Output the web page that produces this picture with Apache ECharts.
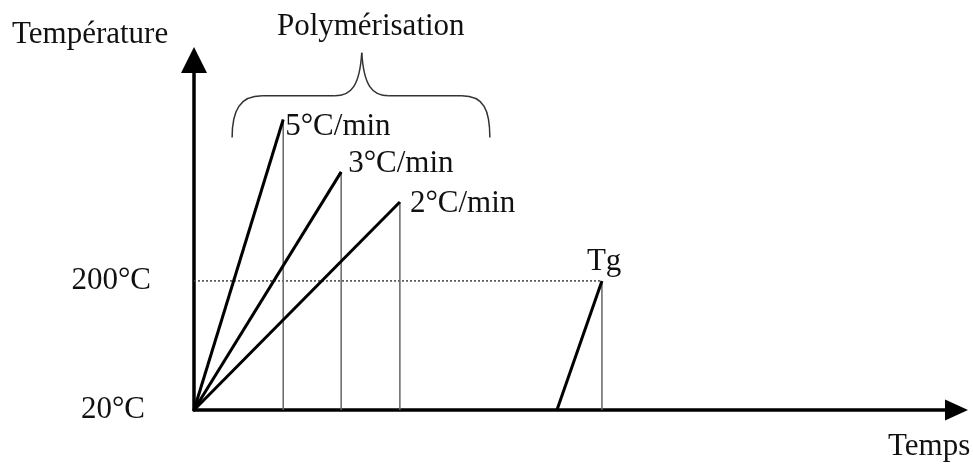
<!DOCTYPE html>
<html>
<head>
<meta charset="utf-8">
<script src="https://cdn.jsdelivr.net/npm/echarts@6/dist/echarts.min.js"></script>
<style>
  html, body { margin: 0; padding: 0; background: #fff; }
  #main { width: 973px; height: 465px; }
</style>
</head>
<body>
<div id="main"></div>
<script>
// donnees du schema (unites arbitraires pour le temps)
var rates = ['5°C/min', '3°C/min', '2°C/min'];
var peakTime = [11.7, 19.3, 27.0];
var peakTemp = [425, 352, 310];
var tgStart = 47.6;
var tgTime = 53.5;
var tgTemp = 200;
var yTicks = [20, 200];
// accolade "Polymérisation" : bornes en temps, niveaux en temperature
var braceTime = [5.0, 22.0, 38.8];
var braceTemp = [400, 458, 518];

var FONT = "'Liberation Serif', 'Times New Roman', serif";
var TXT = '#111';

var series = [];
// pointilles a 200°C
series.push({
    type: 'line', silent: true, symbol: 'none',
    data: [[0, tgTemp], [tgTime, tgTemp]],
    lineStyle: { color: '#444', width: 1.5, type: [2, 2] }
});
// traits verticaux fins
for (var i = 0; i < peakTime.length; i++) {
    series.push({
        type: 'line', silent: true, symbol: 'none',
        data: [[peakTime[i], 20], [peakTime[i], peakTemp[i]]],
        lineStyle: { color: '#666', width: 1.5 }
    });
}
series.push({
    type: 'line', silent: true, symbol: 'none',
    data: [[tgTime, 20], [tgTime, tgTemp]],
    lineStyle: { color: '#666', width: 1.5 }
});
// rampes
for (var j = 0; j < peakTime.length; j++) {
    series.push({
        type: 'line', silent: true, symbol: 'none', z: 5,
        data: [[0, 20], [peakTime[j], peakTemp[j]]],
        lineStyle: { color: '#000', width: 3 }
    });
}
series.push({
    type: 'line', silent: true, symbol: 'none', z: 5,
    data: [[tgStart, 20], [tgTime, tgTemp]],
    lineStyle: { color: '#000', width: 3 }
});

var option = {
    animation: false,
    backgroundColor: '#fff',
    grid: { left: 194, right: 16.5, top: 60, bottom: 55 },
    xAxis: {
        type: 'value', min: 0, max: 100,
        axisLine: { onZero: false, lineStyle: { color: '#000', width: 3.5 },
                    symbol: ['none', 'triangle'], symbolSize: [21, 23] },
        axisTick: { show: false }, axisLabel: { show: false }, splitLine: { show: false }
    },
    yAxis: {
        type: 'value', min: 20, max: 508,
        axisLine: { lineStyle: { color: '#000', width: 3.5 },
                    symbol: ['none', 'triangle'], symbolSize: [26, 26] },
        axisTick: { show: false }, splitLine: { show: false },
        axisLabel: {
            customValues: yTicks, margin: 43,
            fontFamily: FONT, fontSize: 31, color: TXT,
            formatter: function (v) {
                return v === 20 ? '{b|' + v + '°C}' : '{a|' + v + '°C}';
            },
            rich: {
                a: { fontFamily: FONT, fontSize: 31, color: TXT },
                b: { fontFamily: FONT, fontSize: 31, color: TXT, padding: [0, 6, 0, 0] }
            }
        }
    },
    series: series
};

var chart = echarts.init(document.getElementById('main'));
chart.setOption(option);

// textes et accolade places a partir des coordonnees du repere
var labelOffset = [[2, 7], [7, -8], [10, 2]];
var graphic = [];
function txt(s, x, y, align) {
    return {
        type: 'text', x: x, y: y, z: 10,
        style: { text: s, fontFamily: FONT, fontSize: 31, fill: TXT,
                 align: align || 'left', verticalAlign: 'middle' }
    };
}
for (var k = 0; k < rates.length; k++) {
    var p = chart.convertToPixel({ gridIndex: 0 }, [peakTime[k], peakTemp[k]]);
    graphic.push(txt(rates[k], p[0] + labelOffset[k][0], p[1] + labelOffset[k][1]));
}
var pt = chart.convertToPixel({ gridIndex: 0 }, [tgTime, tgTemp]);
graphic.push(txt('Tg', pt[0] - 15, pt[1] - 19));
graphic.push(txt('Température', 12, 35));
graphic.push(txt('Temps', 888, 447));

var b0 = chart.convertToPixel({ gridIndex: 0 }, [braceTime[0], braceTemp[0]]);
var b1 = chart.convertToPixel({ gridIndex: 0 }, [braceTime[1], braceTemp[1]]);
var b2 = chart.convertToPixel({ gridIndex: 0 }, [braceTime[2], braceTemp[2]]);
var xl = b0[0], xm = b1[0], xr = b2[0];
var yb = b0[1], yh = b1[1], yt = b2[1];
var braceStyle = { fill: 'none', stroke: '#333', lineWidth: 1.5 };
function curve(x1, y1, c1x, c1y, c2x, c2y, x2, y2) {
    return { type: 'bezierCurve', style: braceStyle,
             shape: { x1: x1, y1: y1, cpx1: c1x, cpy1: c1y, cpx2: c2x, cpy2: c2y, x2: x2, y2: y2 } };
}
function seg(x1, y1, x2, y2) {
    return { type: 'line', style: braceStyle, shape: { x1: x1, y1: y1, x2: x2, y2: y2 } };
}
graphic.push(curve(xl, yb, xl, yh + 14, xl + 8, yh, xl + 30, yh));
graphic.push(seg(xl + 30, yh, xm - 27, yh));
graphic.push(curve(xm - 27, yh, xm - 10, yh, xm - 2, yh - 11, xm, yt));
graphic.push(curve(xm, yt, xm + 2, yh - 11, xm + 10, yh, xm + 27, yh));
graphic.push(seg(xm + 27, yh, xr - 28, yh));
graphic.push(curve(xr - 28, yh, xr - 6, yh, xr, yh + 14, xr, yb));
graphic.push(txt('Polymérisation', xm + 9, 27, 'center'));

chart.setOption({ graphic: graphic });
</script>
</body>
</html>
